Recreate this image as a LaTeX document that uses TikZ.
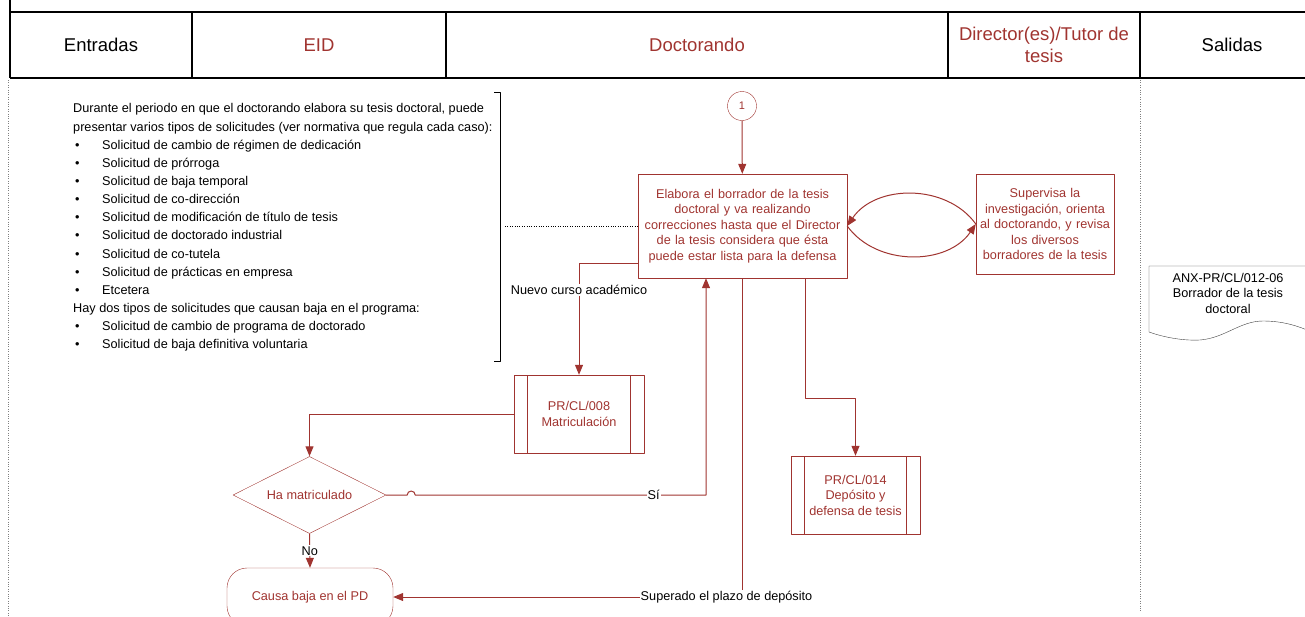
\documentclass[tikz,border=0pt]{standalone}
\usepackage{fontspec}
\setmainfont{Liberation Sans}
\usetikzlibrary{arrows.meta,shapes.geometric,positioning}
\definecolor{flowred}{RGB}{160,52,48}
\newcommand{\txt}{\fontsize{12.7}{15.5}\selectfont}
\newcommand{\hdr}{\fontsize{18.5}{22}\selectfont}
\newcommand{\blt}{\makebox[29pt][l]{\hspace{2pt}\textbullet}}
\tikzset{
	proc/.style={draw=flowred, text=flowred, align=center, font=\txt, inner sep=2pt},
	subproc/.style={proc, path picture={
			\draw[flowred] ([xshift=13.5pt]path picture bounding box.north west) -- ([xshift=13.5pt]path picture bounding box.south west);
			\draw[flowred] ([xshift=-13.5pt]path picture bounding box.north east) -- ([xshift=-13.5pt]path picture bounding box.south east);}},
	flow/.style={draw=flowred, line width=1pt, -{Triangle[length=10pt,width=8pt]}},
	lbl/.style={fill=white, font=\txt, inner sep=1pt, text=black},
	lane/.style={draw=gray, dotted},
	hdrtxt/.style={font=\hdr, align=center}
}
\begin{document}
\begin{tikzpicture}[x=1pt, y=-1pt, line join=round, font=\txt]
	\useasboundingbox (0,0) rectangle (1305,616);
	% cabecera
	\draw[line width=1.5pt] (10,0) -- (10,78);
	\draw[line width=1.5pt] (10,12) -- (1305,12);
	\draw[line width=1.5pt] (10,78) -- (1305,78);
	\foreach \x in {192,446,948,1140}
		\draw[line width=1.2pt] (\x,12) -- (\x,78);
	\node[hdrtxt] (hent) at (101,45) {Entradas};
	\node[hdrtxt, text=flowred] (heid) at (319,45) {EID};
	\node[hdrtxt, text=flowred] (hdoc) at (697,45) {Doctorando};
	\node[hdrtxt, text=flowred] (hdir) at (1044,45) {Director(es)/Tutor de\\tesis};
	\node[hdrtxt] (hsal) at (1232,45) {Salidas};
	\draw[lane] (8,80) -- (8,616);
	\draw[lane] (1140,80) -- (1140,612);
	% solicitudes
	\node[anchor=north west, align=left, inner sep=0pt, font=\fontsize{12.7}{18.15}\selectfont] (solic) at (73,103.5) {Durante el periodo en que el doctorando elabora su tesis doctoral, puede\\
		presentar varios tipos de solicitudes (ver normativa que regula cada caso):\\
		\blt Solicitud de cambio de régimen de dedicación\\
		\blt Solicitud de prórroga\\
		\blt Solicitud de baja temporal\\
		\blt Solicitud de co-dirección\\
		\blt Solicitud de modificación de título de tesis\\
		\blt Solicitud de doctorado industrial\\
		\blt Solicitud de co-tutela\\
		\blt Solicitud de prácticas en empresa\\
		\blt Etcetera\\
		Hay dos tipos de solicitudes que causan baja en el programa:\\
		\blt Solicitud de cambio de programa de doctorado\\
		\blt Solicitud de baja definitiva voluntaria};
	\draw (494,92) -- (500,92) -- (500,361) -- (494,361);
	% nodos
	\node[circle, draw=flowred, text=flowred, minimum size=29pt, inner sep=0pt, font=\fontsize{11}{13}\selectfont] (c1) at (742,106) {1};
	\node[proc, minimum width=209pt, minimum height=104pt, text width=203pt] (elab) at (742.5,226) {Elabora el borrador de la tesis\\doctoral y va realizando\\correcciones hasta que el Director\\de la tesis considera que ésta\\puede estar lista para la defensa};
	\node[proc, minimum width=138pt, minimum height=100pt, text width=134pt] (sup) at (1045,224) {Supervisa la\\investigación, orienta\\al doctorando, y revisa\\los diversos\\borradores de la tesis};
	\node[subproc, minimum width=130pt, minimum height=78pt] (matr) at (579,414) {PR/CL/008\\Matriculación};
	\node[subproc, minimum width=129pt, minimum height=78pt] (dep) at (855.5,495) {PR/CL/014\\Depósito y\\defensa de tesis};
	\node[diamond, aspect=2, draw=flowred, text=flowred, minimum width=153pt, minimum height=77pt, inner sep=0pt] (ham) at (309.5,495) {Ha matriculado};
	\node[draw=flowred, text=flowred, rounded corners=20pt, minimum width=166pt, minimum height=58pt] (baja) at (310,597) {Causa baja en el PD};
	% documento de salida
	\draw[draw=black!75] (1149,266) -- (1312,266) -- (1312,332) .. controls (1300,327) and (1285,321) .. (1263,321) .. controls (1240,321) and (1225,338) .. (1200,340) .. controls (1180,341) and (1160,336) .. (1149,332) -- cycle;
	\node[align=center] (anx) at (1228,293) {ANX-PR/CL/012-06\\Borrador de la tesis\\doctoral};
	% conectores
	\draw[flow] (c1) -- (elab);
	\draw[flow] (sup.west) to[bend right=55] (elab.east);
	\draw[flow] (elab.east) to[bend right=55] (sup.west);
	\draw[dotted] (505,226) -- (elab.west);
	\draw[flow] ([yshift=15pt]elab.south west) -| node[lbl, pos=0.62]{Nuevo curso académico} (matr.north);
	\draw[flow] (matr.west) -| (ham.north);
	\draw[flow] (ham.east) -- ++(21pt,0) arc[start angle=180, end angle=0, radius=4pt] -| node[lbl, pos=0.41]{Sí} ([xshift=-36.5pt]elab.south);
	\draw[flow] (ham.south) -- node[lbl]{No} (baja.north);
	\draw[flow] (elab.south) |- node[lbl, pos=0.5, xshift=-16pt]{Superado el plazo de depósito} (baja.east);
	\draw[flow] ([xshift=62.5pt]elab.south) -- ++(0,120) -| (dep.north);
\end{tikzpicture}
\end{document}
